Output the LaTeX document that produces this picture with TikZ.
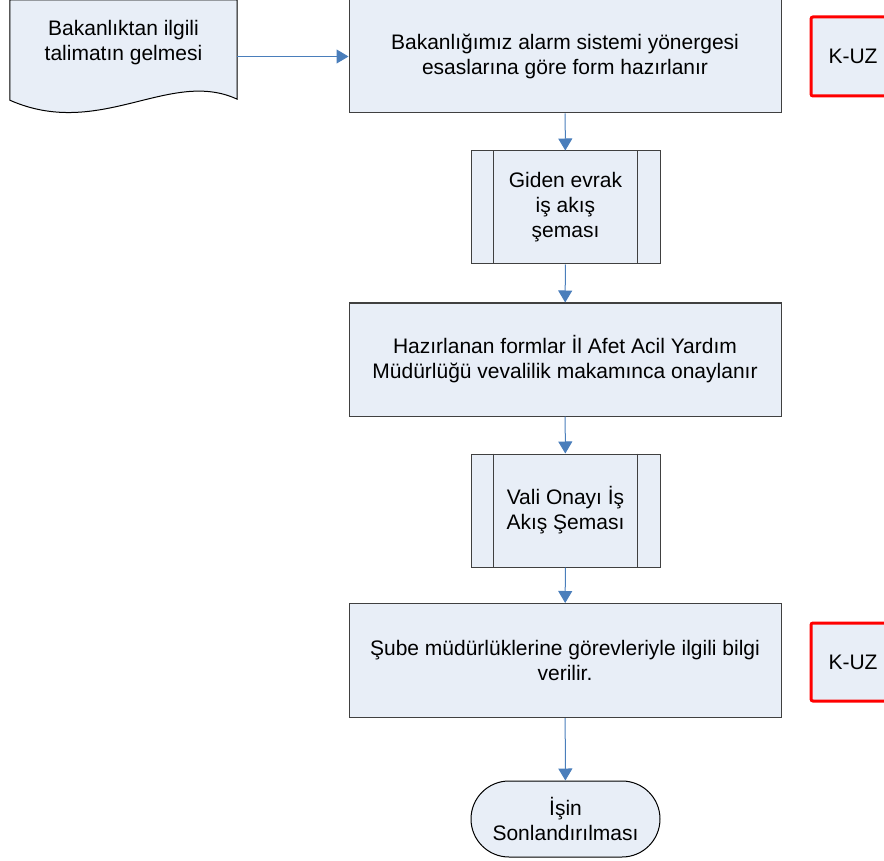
\documentclass[tikz,border=0pt]{standalone}
\usepackage{fontspec}
\setmainfont{Liberation Sans}
\usetikzlibrary{arrows.meta,shapes.misc,backgrounds}
\definecolor{kutu}{HTML}{E8EEF7}
\definecolor{cizgi}{HTML}{404040}
\definecolor{okrengi}{HTML}{4A7EBB}

\begin{document}
\begin{tikzpicture}[x=1pt,y=-1pt,
  yazi/.style={font=\fontsize{21}{25}\selectfont,align=center,inner sep=0pt},
  islem/.style={yazi,draw=cizgi,fill=kutu,line width=1pt,minimum width=432pt,minimum height=113pt},
  altislem/.style={islem,minimum width=189pt},
  kuz/.style={yazi,draw=red,fill=kutu,line width=3pt,rounded corners=2pt,minimum width=84pt,minimum height=79pt},
  bitis/.style={yazi,rounded rectangle,draw=black,fill=kutu,line width=1pt,minimum width=189pt,minimum height=76pt},
  akis/.style={draw=okrengi,line width=1pt,-{Triangle[length=12pt,width=14pt]}}]
  \useasboundingbox (0,0) rectangle (884,861);

  % belge sekli
  \node[yazi,minimum width=227pt,minimum height=86pt] (talimat) at (123.5,43) {Bakanlıktan ilgili\\talimatın gelmesi};
  \begin{scope}[on background layer]
    \draw[fill=kutu,line width=1pt] (talimat.north west) -- (talimat.north east) -- ([yshift=-13pt]talimat.south east)
      .. controls (170,68) and (100,140) .. ([yshift=-14pt]talimat.south west) -- cycle;
  \end{scope}

  \node[islem] (form) at (565,56.5) {Bakanlığımız alarm sistemi yönergesi\\esaslarına göre form hazırlanır};
  \node[kuz] (kuz1) at (853,56.5) {K-UZ};
  \node[altislem] (giden) at (565.5,207.5) {Giden evrak\\iş akış\\şeması};
  \node[islem] (onay) at (565,359.5) {Hazırlanan formlar İl Afet Acil Yardım\\Müdürlüğü vevalilik makamınca onaylanır};
  \node[altislem] (vali) at (565.5,510.5) {Vali Onayı İş\\Akış Şeması};
  \node[islem,minimum height=114pt] (sube) at (565,660.5) {Şube müdürlüklerine görevleriyle ilgili bilgi\\verilir.};
  \node[kuz,minimum height=78pt] (kuz2) at (853,662) {K-UZ};
  \node[bitis] (son) at (565.5,819) {İşin\\Sonlandırılması};

  % alt surec cizgileri
  \foreach \n in {giden,vali} {
    \draw[cizgi,line width=1pt] ([xshift=23pt]\n.north west) -- ([xshift=23pt]\n.south west);
    \draw[cizgi,line width=1pt] ([xshift=-23pt]\n.north east) -- ([xshift=-23pt]\n.south east);
  }

  \draw[akis] (form.west -| talimat.east) -- (form.west);
  \draw[akis] (form) -- (giden);
  \draw[akis] (giden) -- (onay);
  \draw[akis] (onay) -- (vali);
  \draw[akis] (vali) -- (sube);
  \draw[akis] (sube) -- (son);
\end{tikzpicture}
\end{document}
